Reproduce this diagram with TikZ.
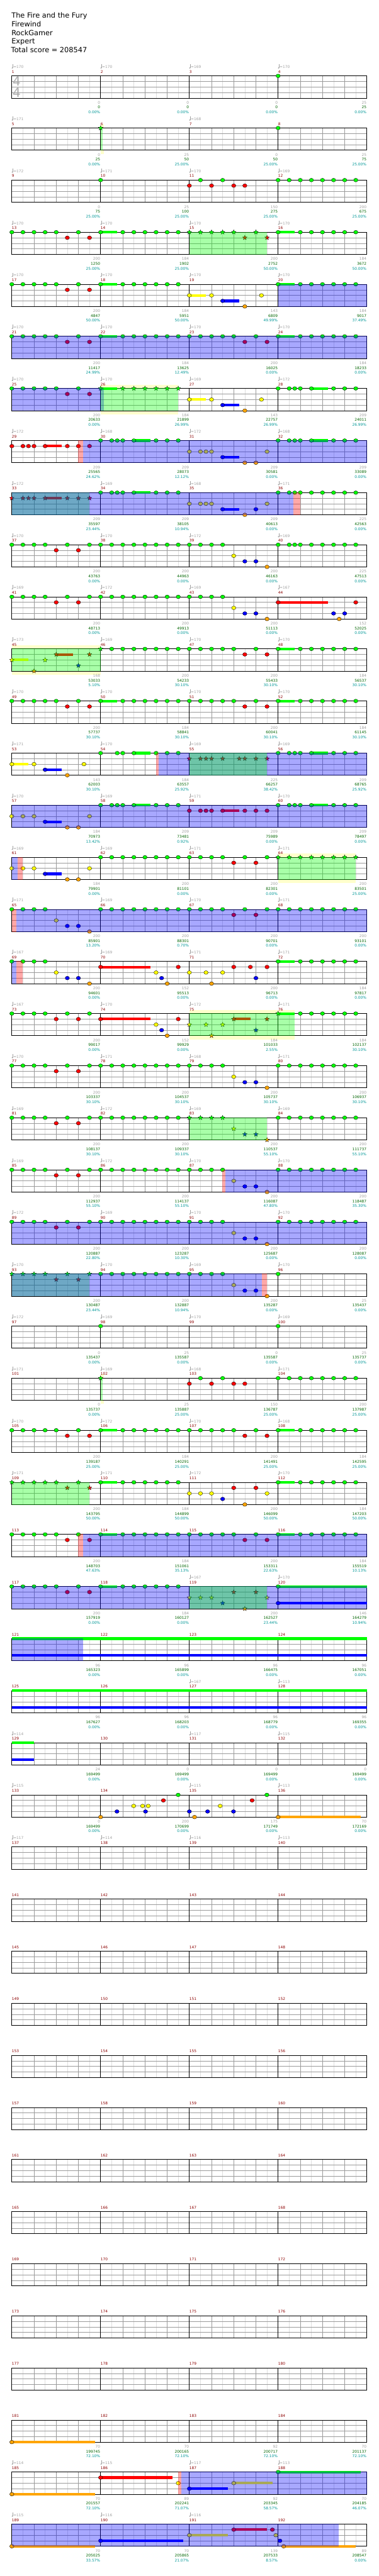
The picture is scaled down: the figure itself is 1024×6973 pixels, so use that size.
\documentclass[tikz,border=0pt]{standalone}
\usepackage{fontspec}
\setmainfont{DejaVu Sans}
\usetikzlibrary{shapes.geometric}
\pgfdeclarelayer{bg}\pgfdeclarelayer{fg}\pgfsetlayers{bg,main,fg}
\definecolor{L0}{RGB}{0,255,0}
\definecolor{L1}{RGB}{255,0,0}
\definecolor{L2}{RGB}{255,255,0}
\definecolor{L3}{RGB}{0,0,255}
\definecolor{L4}{RGB}{255,165,0}
\definecolor{clg}{RGB}{160,160,160}
\definecolor{mred}{RGB}{139,0,0}
\definecolor{cum}{RGB}{0,100,0}
\definecolor{pct}{RGB}{0,150,150}
\definecolor{cgq}{RGB}{155,155,155}
\definecolor{cgl}{RGB}{222,222,222}
\definecolor{ybx}{RGB}{255,255,204}
\definecolor{tsig}{RGB}{170,170,170}
\tikzset{
  gq/.style={draw=cgq,line width=1},
  gl/.style={draw=cgl,line width=1},
  mnum/.style={anchor=base west,inner sep=0,text=mred,font=\fontsize{10}{12}\selectfont},
  sclab/.style={anchor=base east,inner sep=0,font=\fontsize{10}{12}\selectfont},
  tmp/.style={anchor=base west,inner sep=0,text=clg,font=\fontsize{10}{12}\selectfont},
  nh/.style={draw=black,line width=0.6},
  st/.style={star,star points=5,star point ratio=2.3,minimum size=13,inner sep=0,draw=black,line width=0.5},
  ttl/.style={anchor=base west,inner sep=0,font=\fontsize{19.3}{23}\selectfont},
}
\newcommand\rowtop[1]{\pgfmathsetmacro\ry{205.5+141*#1}}
\newcommand\staff[1]{%
 \rowtop{#1}%
 \fill[white] (32,\ry) rectangle (992,\ry+60);
 \foreach \i in {1,3,...,31} \draw[gl] (32+30*\i,\ry) -- (32+30*\i,\ry+60);
 \foreach \i in {1,2,3,5,6,7,9,10,11,13,14,15} \draw[gq] (32+60*\i,\ry) -- (32+60*\i,\ry+60);
 \foreach \lane in {1,2,3} \draw[gq] (32,\ry+15*\lane) -- (992,\ry+15*\lane);
 \foreach \i in {1,2,3} \draw[black,line width=1] (32+240*\i,\ry) -- (32+240*\i,\ry+60);
 \draw[black,line width=1.2] (32,\ry) rectangle (992,\ry+60);
 \foreach \i in {0,...,3} {\pgfmathtruncatemacro\mm{4*#1+1+\i}\node[mnum] at (32+240*\i,\ry-7.5) {\mm};}
}
\newcommand\tempos[2]{\rowtop{#1}\foreach \slot/\tv in {#2} {%
 \fill[clg] (33.3+240*\slot,\ry-21.5) ellipse (1.9 and 1.5);
 \draw[clg,line width=0.7] (35+240*\slot,\ry-21.5) -- (35+240*\slot,\ry-31.5);
 \node[tmp] at (36+240*\slot,\ry-20.5) {=\tv};}}
\newcommand\scores[2]{\rowtop{#1}\foreach \va/\vb/\vc [count=\i] in {#2} {%
 \node[sclab,text=clg] at (31+240*\i,\ry+76) {\va};
 \node[sclab,text=cum] at (31+240*\i,\ry+89) {\vb};
 \node[sclab,text=pct] at (31+240*\i,\ry+102) {\vc\%};}}
\newcommand\sus[2]{\rowtop{#1}\foreach \pp/\lane/\nn in {#2} \fill[L\lane] (32+15*\pp,\ry+15*\lane-3.5) rectangle (32+15*\pp+15*\nn,\ry+15*\lane+3.5);}
\newcommand\notes[2]{\rowtop{#1}\foreach \pp/\lane in {#2} \draw[nh,fill=L\lane] (32+15*\pp,\ry+15*\lane) ellipse (5.8 and 5);}
\newcommand\stars[2]{\rowtop{#1}\foreach \pp/\lane in {#2} \node[st,fill=L\lane] at (32+15*\pp,\ry+15*\lane) {};}
\newcommand\ov[4]{\rowtop{#1}\begin{pgfonlayer}{fg}\fill[#4,opacity=0.34] (32+15*#2,\ry-0.6) rectangle (32+15*#3,\ry+60.6);\end{pgfonlayer}}
\newcommand\act[3]{\ov{#1}{#2}{#3}{L3}}
\newcommand\phr[3]{\ov{#1}{#2}{#3}{L0}}
\newcommand\pnk[3]{\ov{#1}{#2}{#3}{L1}}
\newcommand\ybox[3]{\rowtop{#1}\begin{pgfonlayer}{bg}\fill[ybx] (32+15*#2,\ry-10) rectangle (32+15*#3,\ry+70);\end{pgfonlayer}}
\begin{document}
\begin{tikzpicture}[x=1pt,y=-1pt]
\useasboundingbox (0,0) rectangle (1024,6973);
\node[ttl] (t1) at (31,49.3) {The Fire and the Fury};
\node[ttl] (t2) at (31,72.4) {Firewind};
\node[ttl] (t3) at (31,95.5) {RockGamer};
\node[ttl] (t4) at (31,118.6) {Expert};
\node[ttl] (t5) at (30,141.7) {Total score = 208547};
% row 0
\staff{0}
\node[anchor=base west,inner sep=0,text=tsig,font=\fontsize{34}{34}\selectfont] (ts1) at (34,233) {4};
\node[anchor=base west,inner sep=0,text=tsig,font=\fontsize{34}{34}\selectfont] (ts2) at (34,263) {4};
\tempos{0}{0/170,1/170,2/169,3/170}
\scores{0}{0/0/0.00,0/0/0.00,0/0/0.00,25/25/0.00}
\notes{0}{48/0}
% row 1
\staff{1}
\tempos{1}{0/171,2/168}
\scores{1}{0/25/0.00,25/50/25.00,0/50/25.00,25/75/25.00}
\ybox{1}{16}{16.6}
\stars{1}{16/0}
\notes{1}{48/0}
\phr{1}{16}{16.35}
% row 2
\staff{2}
\tempos{2}{0/172,1/171,2/170,3/169}
\scores{2}{0/75/25.00,25/100/25.00,150/275/25.00,200/675/25.00}
\notes{2}{16/0,32/1,34/0,36/1,38/0,40/1,42/1,48/0,50/0,52/0,54/0,56/0,58/0,60/0,62/0}
% row 3
\staff{3}
\tempos{3}{0/170,1/170,2/170,3/170}
\scores{3}{200/1250/25.00,184/1902/25.00,200/2752/50.00,184/3672/50.00}
\sus{3}{16/0/3,48/0/3}
\notes{3}{0/0,2/0,4/0,6/0,8/0,12/0,10/1,14/1,16/0,20/0,22/0,24/0,26/0,28/0,30/0,48/0,52/0,54/0,56/0,58/0,60/0,62/0}
\stars{3}{32/0,34/0,36/0,38/0,40/0,44/0,42/1,46/1}
\phr{3}{32}{46}
% row 4
\staff{4}
\tempos{4}{0/170,1/170,2/170,3/170}
\scores{4}{200/4847/50.00,184/5951/50.00,143/6809/49.99,184/9017/37.49}
\sus{4}{16/0/3,32/2/3,38/3/3,48/0/3}
\notes{4}{0/0,2/0,4/0,6/0,8/0,12/0,10/1,14/1,16/0,20/0,22/0,24/0,26/0,28/0,30/0,32/2,36/2,38/3,42/4,45/2,48/0,52/0,54/0,56/0,58/0,60/0,62/0}
\act{4}{48}{64}
% row 5
\staff{5}
\tempos{5}{0/170,1/170,2/170,3/170}
\scores{5}{200/11417/24.99,184/13625/12.49,200/16025/0.00,184/18233/0.00}
\sus{5}{16/0/3,48/0/3}
\notes{5}{0/0,2/0,4/0,6/0,8/0,12/0,10/1,14/1,16/0,20/0,22/0,24/0,26/0,28/0,30/0,32/0,34/0,36/0,38/0,40/0,44/0,42/1,46/1,48/0,52/0,54/0,56/0,58/0,60/0,62/0}
\act{5}{0}{64}
% row 6
\staff{6}
\tempos{6}{0/170,1/170,2/169,3/172}
\scores{6}{200/20633/0.00,184/21899/26.99,143/22757/26.99,209/24011/26.99}
\ybox{6}{16}{30}
\sus{6}{16/0/3,32/2/3,38/3/3,54/0/3}
\notes{6}{0/0,2/0,4/0,6/0,8/0,12/0,10/1,14/1,32/2,36/2,38/3,42/4,45/2,48/0,50/0,51/0,52/0,54/0,58/0,60/0,62/0}
\stars{6}{16/0,20/0,22/0,24/0,26/0,28/0,30/0}
\act{6}{0}{16.6}
\phr{6}{16}{30}
% row 7
\staff{7}
\tempos{7}{0/172,1/168,2/172,3/168}
\scores{7}{209/25565/24.62,209/28073/12.12,209/30581/0.00,209/33089/0.00}
\sus{7}{6/1/3,22/0/3,38/3/3,54/0/3}
\notes{7}{0/1,2/1,3/1,4/1,6/1,10/1,12/1,14/1,16/0,18/0,19/0,20/0,22/0,26/0,28/0,30/0,32/2,34/2,35/2,36/2,46/2,38/3,42/4,44/4,48/0,50/0,51/0,52/0,54/0,58/0,60/0,62/0}
\pnk{7}{11.93}{12.9}
\act{7}{12.9}{64}
% row 8
\staff{8}
\tempos{8}{0/172,1/169,2/168,3/171}
\scores{8}{209/35597/23.44,209/38105/10.94,209/40613/0.00,225/42563/0.00}
\sus{8}{6/1/3,22/0/3,38/3/3}
\stars{8}{0/1,2/1,3/1,4/1,6/1,10/1,12/1,14/1}
\notes{8}{16/0,18/0,19/0,20/0,22/0,26/0,28/0,30/0,32/2,34/2,35/2,36/2,46/2,38/3,44/3,42/4,48/0,50/0,51/0,52/0,54/0,56/0,58/0,60/0,62/0}
\phr{8}{0}{14}
\act{8}{0}{50.7}
\pnk{8}{50.7}{52}
% row 9
\staff{9}
\tempos{9}{0/170,1/170,2/172,3/169}
\scores{9}{200/43763/0.00,200/44963/0.00,200/46163/0.00,225/47513/0.00}
\notes{9}{0/0,2/0,4/0,6/0,10/0,14/0,8/1,12/1,16/0,18/0,20/0,22/0,24/0,26/0,28/0,30/0,32/0,34/0,36/0,38/0,40/2,42/3,44/3,46/4,48/0,50/0,51/0,52/0,54/0,56/0,58/0,60/0,62/0}
% row 10
\staff{10}
\tempos{10}{0/169,1/172,2/169,3/167}
\scores{10}{200/48713/0.00,200/49913/0.00,200/51113/0.00,152/52025/0.00}
\sus{10}{48/1/9}
\notes{10}{0/0,2/0,4/0,6/0,10/0,14/0,8/1,12/1,16/0,18/0,20/0,22/0,24/0,26/0,28/0,30/0,32/0,34/0,36/0,38/0,40/2,42/3,44/3,46/4,48/1,58/3,60/3,59/4,62/1}
% row 11
\staff{11}
\tempos{11}{0/173,1/169,2/170,3/170}
\scores{11}{168/53033/5.10,200/54233/30.10,200/55433/30.10,184/56537/30.10}
\ybox{11}{0}{16}
\sus{11}{0/2/3,8/1/3,48/0/3}
\stars{11}{0/2,4/4,6/2,8/1,12/3,14/1,16/0}
\notes{11}{18/0,20/0,22/0,24/0,26/0,28/0,30/0,32/0,34/0,36/0,38/0,40/0,44/0,42/1,46/1,48/0,52/0,54/0,56/0,58/0,60/0,62/0}
\phr{11}{0}{16}
% row 12
\staff{12}
\tempos{12}{0/170,1/170,2/170,3/170}
\scores{12}{200/57737/30.10,184/58841/30.10,200/60041/30.10,184/61145/30.10}
\sus{12}{16/0/3,48/0/3}
\notes{12}{0/0,2/0,4/0,6/0,8/0,12/0,10/1,14/1,16/0,20/0,22/0,24/0,26/0,28/0,30/0,32/0,34/0,36/0,38/0,40/0,44/0,42/1,46/1,48/0,52/0,54/0,56/0,58/0,60/0,62/0}
% row 13
\staff{13}
\tempos{13}{0/171,1/170,2/169,3/169}
\scores{13}{143/62003/30.10,184/63557/25.92,225/66257/38.42,209/68765/25.92}
\sus{13}{0/2/3,6/3/3,22/0/3,54/0/3}
\notes{13}{0/2,4/2,13/2,6/3,10/4,16/0,19/0,20/0,22/0,26/0,28/0,30/0,48/0,50/0,51/0,52/0,54/0,58/0,60/0,62/0}
\stars{13}{32/1,34/1,35/1,36/1,38/1,41/1,42/1,44/1,46/1}
\pnk{13}{25.97}{26.5}
\act{13}{26.5}{64}
\phr{13}{32}{46}
% row 14
\staff{14}
\tempos{14}{0/170,1/169,2/171,3/170}
\scores{14}{184/70973/13.42,209/73481/0.92,209/75989/0.00,209/78497/0.00}
\sus{14}{6/3/3,22/0/3,38/1/3,54/0/3}
\notes{14}{0/2,2/2,4/2,14/2,6/3,10/4,12/4,16/0,18/0,19/0,20/0,22/0,26/0,28/0,30/0,32/1,34/1,35/1,36/1,38/1,42/1,44/1,46/1,48/0,50/0,51/0,52/0,54/0,58/0,60/0,62/0}
\act{14}{0}{64}
% row 15
\staff{15}
\tempos{15}{0/169,1/169,2/171,3/171}
\scores{15}{184/79901/0.00,200/81101/0.00,200/82301/0.00,200/83501/25.00}
\ybox{15}{48}{62}
\sus{15}{6/3/3}
\notes{15}{0/2,2/2,4/2,14/2,6/3,10/4,12/4,16/0,18/0,20/0,22/0,24/0,26/0,28/0,30/0,32/0,34/0,36/0,38/0,42/0,46/0,40/1,44/1}
\stars{15}{48/0,50/0,52/0,54/0,56/0,58/0,60/0,62/0}
\act{15}{0}{1.05}
\pnk{15}{1.05}{1.96}
\phr{15}{48}{62}
% row 16
\staff{16}
\tempos{16}{0/171,1/169,2/170,3/171}
\scores{16}{200/85901/13.20,200/88301/0.70,200/90701/0.00,200/93101/0.00}
\notes{16}{0/0,2/0,4/0,6/0,8/2,10/3,12/3,14/4,16/0,18/0,20/0,22/0,24/0,26/0,28/0,30/0,32/0,34/0,36/0,38/0,42/0,46/0,40/1,44/1,48/0,50/0,52/0,54/0,56/0,58/0,60/0,62/0}
\pnk{16}{0}{0.79}
\act{16}{0.79}{64}
% row 17
\staff{17}
\tempos{17}{0/167,1/169,2/171,3/171}
\scores{17}{200/94601/0.00,152/95513/0.00,200/96713/0.00,184/97817/0.00}
\sus{17}{16/1/9,48/0/3}
\notes{17}{0/0,2/0,4/0,6/0,8/2,10/3,12/3,14/4,16/1,26/2,27/3,28/4,30/1,32/2,35/2,38/2,36/4,40/1,43/1,46/1,44/3,48/0,52/0,54/0,56/0,58/0,60/0,62/0}
\act{17}{0}{0.79}
\pnk{17}{0.79}{1.96}
% row 18
\staff{18}
\tempos{18}{0/167,1/170,2/172,3/171}
\scores{18}{200/99017/0.00,152/99929/0.00,184/101033/2.55,184/102137/30.10}
\ybox{18}{32}{51}
\sus{18}{16/1/9,40/1/3,48/0/3}
\notes{18}{0/0,2/0,4/0,6/0,10/0,14/0,8/1,12/1,16/1,26/2,27/3,28/4,30/1,52/0,54/0,56/0,58/0,60/0,62/0}
\stars{18}{32/2,35/2,38/2,36/4,40/1,46/1,44/3,48/0}
\phr{18}{32}{51}
% row 19
\staff{19}
\tempos{19}{0/170,1/171,2/168,3/171}
\scores{19}{200/103337/30.10,200/104537/30.10,200/105737/30.10,200/106937/30.10}
\notes{19}{0/0,2/0,4/0,6/0,10/0,14/0,8/1,12/1,16/0,18/0,20/0,22/0,24/0,26/0,28/0,30/0,32/0,34/0,36/0,38/0,40/2,42/3,44/3,46/4,48/0,50/0,52/0,54/0,56/0,58/0,60/0,62/0}
% row 20
\staff{20}
\tempos{20}{0/169,1/172,2/169,3/169}
\scores{20}{200/108137/30.10,200/109337/30.10,200/110537/55.10,200/111737/55.10}
\notes{20}{0/0,2/0,4/0,6/0,10/0,14/0,8/1,12/1,16/0,18/0,20/0,22/0,24/0,26/0,28/0,30/0,48/0,50/0,52/0,54/0,56/0,58/0,60/0,62/0}
\stars{20}{32/0,34/0,36/0,38/0,40/2,42/3,44/3,46/4}
\phr{20}{32}{46}
% row 21
\staff{21}
\tempos{21}{0/169,1/172,2/170,3/170}
\scores{21}{200/112937/55.10,200/114137/55.10,200/116087/47.80,200/118487/35.30}
\notes{21}{0/0,2/0,4/0,6/0,10/0,14/0,8/1,12/1,16/0,18/0,20/0,22/0,24/0,26/0,28/0,30/0,32/0,34/0,36/0,38/0,40/2,42/3,44/3,46/4,48/0,50/0,52/0,54/0,56/0,58/0,60/0,62/0}
\pnk{21}{37.95}{38.5}
\act{21}{38.5}{64}
% row 22
\staff{22}
\tempos{22}{0/172,1/169,2/170,3/170}
\scores{22}{200/120887/22.80,200/123287/10.30,200/125687/0.00,200/128087/0.00}
\notes{22}{0/0,2/0,4/0,6/0,10/0,14/0,8/1,12/1,16/0,18/0,20/0,22/0,24/0,26/0,28/0,30/0,32/0,34/0,36/0,38/0,40/2,42/3,44/3,46/4,48/0,50/0,52/0,54/0,56/0,58/0,60/0,62/0}
\act{22}{0}{64}
% row 23
\staff{23}
\tempos{23}{0/170,1/170,2/169,3/170}
\scores{23}{200/130487/23.44,200/132887/10.94,200/135287/0.00,25/135437/0.00}
\stars{23}{0/0,2/0,4/0,6/0,10/0,14/0,8/1,12/1}
\notes{23}{16/0,18/0,20/0,22/0,24/0,26/0,28/0,30/0,32/0,34/0,36/0,38/0,40/2,42/3,44/3,46/4,48/0}
\phr{23}{0}{14}
\act{23}{0}{45.1}
\pnk{23}{45.1}{46}
% row 24
\staff{24}
\tempos{24}{0/172,1/169,2/170,3/169}
\scores{24}{0/135437/0.00,25/135587/0.00,0/135587/0.00,25/135737/0.00}
\notes{24}{16/0,48/0}
% row 25
\staff{25}
\tempos{25}{0/171,1/169,2/168,3/171}
\scores{25}{0/135737/0.00,25/135887/25.00,150/136787/25.00,200/137987/25.00}
\ybox{25}{16}{16.6}
\stars{25}{16/0}
\notes{25}{32/1,34/0,36/1,38/0,40/1,42/1,48/0,50/0,52/0,54/0,56/0,58/0,60/0,62/0}
\phr{25}{16}{16.35}
% row 26
\staff{26}
\tempos{26}{0/170,1/172,2/170,3/168}
\scores{26}{200/139187/25.00,184/140291/25.00,200/141491/25.00,184/142595/25.00}
\sus{26}{16/0/3,48/0/3}
\notes{26}{0/0,2/0,4/0,6/0,8/0,12/0,10/1,14/1,16/0,20/0,22/0,24/0,26/0,28/0,30/0,32/0,34/0,36/0,38/0,40/0,44/0,42/1,46/1,48/0,52/0,54/0,56/0,58/0,60/0,62/0}
% row 27
\staff{27}
\tempos{27}{0/171,1/171,2/172,3/170}
\scores{27}{200/143795/50.00,184/144899/50.00,200/146099/50.00,184/147203/50.00}
\sus{27}{16/0/3,48/0/3}
\stars{27}{0/0,2/0,4/0,6/0,8/0,12/0,10/1,14/1}
\notes{27}{16/0,20/0,22/0,24/0,26/0,28/0,30/0,32/2,34/2,36/2,46/2,38/3,40/1,44/1,42/4,48/0,52/0,54/0,56/0,58/0,60/0,62/0}
\phr{27}{0}{14}
% row 28
\staff{28}
\scores{28}{200/148703/47.63,184/151061/35.13,200/153311/22.63,184/155519/10.13}
\sus{28}{16/0/3,48/0/3}
\notes{28}{0/0,2/0,4/0,6/0,8/0,12/0,10/1,14/1,16/0,20/0,22/0,24/0,26/0,28/0,30/0,32/0,34/0,36/0,38/0,40/0,44/0,42/1,46/1,48/0,52/0,54/0,56/0,58/0,60/0,62/0}
\pnk{28}{11.94}{12.9}
\act{28}{12.9}{64}
% row 29
\staff{29}
\tempos{29}{2/167,3/170}
\scores{29}{200/157919/0.00,184/160127/0.00,200/162527/23.44,146/164279/10.94}
\sus{29}{16/0/3,48/0/16,48/3/16}
\notes{29}{0/0,2/0,4/0,6/0,8/0,12/0,10/1,14/1,16/0,20/0,22/0,24/0,26/0,28/0,30/0,48/0,48/3}
\stars{29}{32/2,34/2,36/2,46/2,38/3,40/1,44/1,42/4}
\act{29}{0}{64}
\phr{29}{32}{46}
% row 30
\staff{30}
\scores{30}{96/165323/0.00,96/165899/0.00,96/166475/0.00,96/167051/0.00}
\sus{30}{0/0/64,0/3/64}
\act{30}{0}{12.9}
% row 31
\staff{31}
\tempos{31}{2/167,3/113}
\scores{31}{96/167627/0.00,96/168203/0.00,96/168779/0.00,96/169355/0.00}
\sus{31}{0/0/64,0/3/64}
% row 32
\staff{32}
\tempos{32}{0/114,2/117,3/115}
\scores{32}{24/169499/0.00,0/169499/0.00,0/169499/0.00,0/169499/0.00}
\sus{32}{0/0/4,0/3/4}
% row 33
\staff{33}
\tempos{33}{0/115,2/115,3/113}
\scores{33}{0/169499/0.00,200/170699/0.00,175/171749/0.00,70/172169/0.00}
\sus{33}{48/4/14.92}
\notes{33}{16/4,18.95/3,21.96/2,23.57/2,24.1/3,24.58/2,27.32/1,29.98/0,32/3,32.94/4,35.29/3,37.56/2,39.96/3,43.31/1,45.97/0,48/4}
% row 34
\staff{34}
\tempos{34}{0/117,1/114,2/116,3/113}
% rows 35-44
\staff{35}\staff{36}\staff{37}\staff{38}\staff{39}
\staff{40}\staff{41}\staff{42}\staff{43}\staff{44}
% row 45
\staff{45}
\scores{45}{70/199745/72.10,70/200165/72.10,92/200717/72.10,70/201137/72.10}
\sus{45}{0/4/14.95}
\notes{45}{0/4}
% row 46
\staff{46}
\tempos{46}{0/114,1/115,2/117,3/113}
\scores{46}{70/201557/72.10,89/202241/71.07,92/203345/58.57,70/204185/46.07}
\sus{46}{0/4/14.95,16/1/13,32/3/6.95,40/2/6.97,48/0/14.92}
\notes{46}{0/4,16/1,30/2,32/3,40/2,48/0}
\pnk{46}{30}{30.6}
\act{46}{30.6}{64}
% row 47
\staff{47}
\tempos{47}{0/115,1/116,2/116}
\scores{47}{70/205025/33.57,70/205865/21.07,139/207533/8.57,89/208547/0.00}
\sus{47}{0/4/14.95,16/3/14.93,32/2/6.95,40/1/5.97,49/4/13}
\notes{47}{0/4,16/3,32/2,40/1,46.97/1,47.59/2,48.33/3,49/4}
\act{47}{0}{58.87}
\end{tikzpicture}
\end{document}
